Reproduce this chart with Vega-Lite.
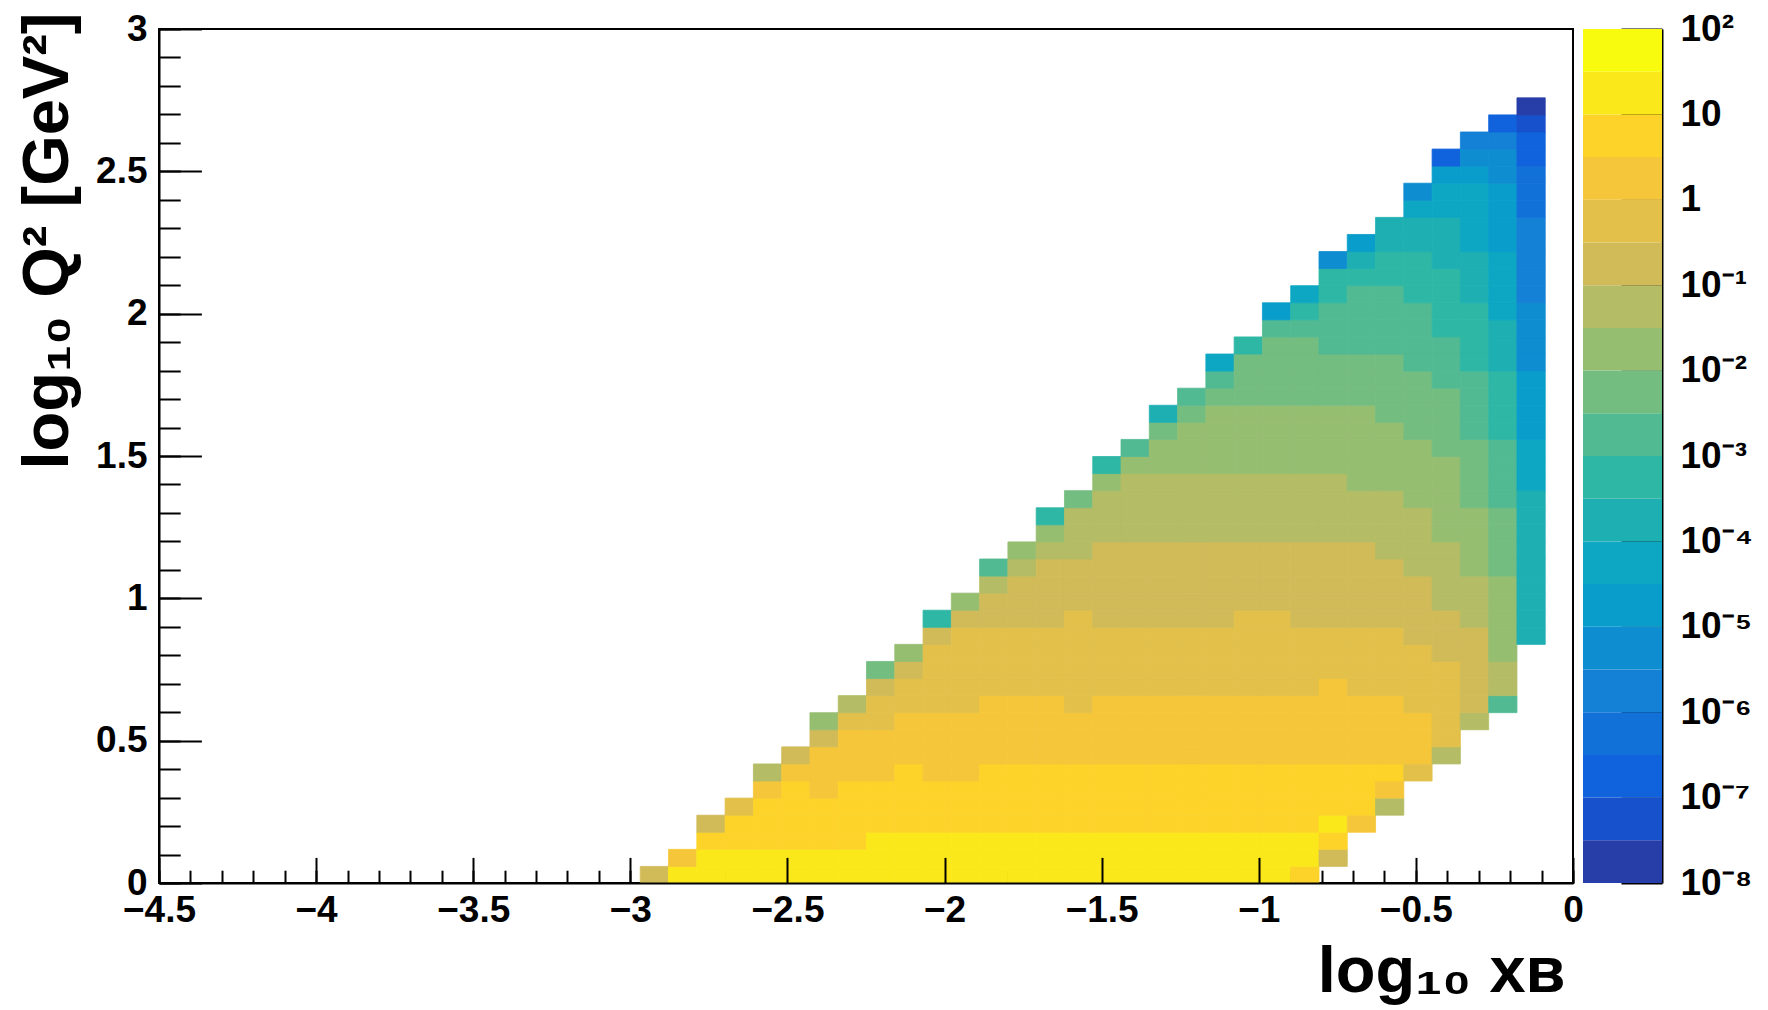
{
"$schema": "https://vega.github.io/schema/vega-lite/v6.json",
"background": "white",
"padding": {"left": 14, "top": 9, "right": 0, "bottom": 0},
"bounds": "flush",
"spacing": 10,
"resolve": {"scale": {"color": "independent"}},
"config": {
  "font": "Liberation Sans",
  "axis": {"labelFont": "Liberation Sans", "labelFontWeight": "bold", "labelColor": "black", "labelFontSize": 37,
           "tickColor": "black", "tickWidth": 2, "domainColor": "black", "domainWidth": 2, "grid": false,
           "titleFont": "Liberation Sans", "titleFontWeight": "bold", "titleColor": "black",
           "labelOverlap": false, "labelBound": false, "labelFlush": false}
},
"datasets": {
"bands": [
{"lo":1e-8,"hi":3.1623e-8,"v":2e-8},{"lo":3.1623e-8,"hi":1e-7,"v":5e-8},{"lo":1e-7,"hi":3.1623e-7,"v":2e-7},{"lo":3.1623e-7,"hi":1e-6,"v":5e-7},
{"lo":1e-6,"hi":3.1623e-6,"v":2e-6},{"lo":3.1623e-6,"hi":1e-5,"v":5e-6},{"lo":1e-5,"hi":3.1623e-5,"v":2e-5},{"lo":3.1623e-5,"hi":1e-4,"v":5e-5},
{"lo":1e-4,"hi":3.1623e-4,"v":2e-4},{"lo":3.1623e-4,"hi":1e-3,"v":5e-4},{"lo":1e-3,"hi":3.1623e-3,"v":2e-3},{"lo":3.1623e-3,"hi":1e-2,"v":5e-3},
{"lo":1e-2,"hi":3.1623e-2,"v":2e-2},{"lo":3.1623e-2,"hi":0.1,"v":5e-2},{"lo":0.1,"hi":0.31623,"v":0.2},{"lo":0.31623,"hi":1,"v":0.5},
{"lo":1,"hi":3.1623,"v":2},{"lo":3.1623,"hi":10,"v":5},{"lo":10,"hi":31.623,"v":20},{"lo":31.623,"hi":100,"v":50}
],
"h": [
{"x":-2.97,"y":0,"v":0.2},
{"x":-2.88,"y":0,"v":20},{"x":-2.88,"y":0.06,"v":2},
{"x":-2.79,"y":0,"v":20},{"x":-2.79,"y":0.06,"v":20},{"x":-2.79,"y":0.12,"v":5},{"x":-2.79,"y":0.18,"v":0.2},
{"x":-2.7,"y":0,"v":20},{"x":-2.7,"y":0.06,"v":20},{"x":-2.7,"y":0.12,"v":5},{"x":-2.7,"y":0.18,"v":5},{"x":-2.7,"y":0.24,"v":0.5},
{"x":-2.61,"y":0,"v":20},{"x":-2.61,"y":0.06,"v":20},{"x":-2.61,"y":0.12,"v":5},{"x":-2.61,"y":0.18,"v":5},{"x":-2.61,"y":0.24,"v":5},{"x":-2.61,"y":0.3,"v":2},{"x":-2.61,"y":0.36,"v":0.05},
{"x":-2.52,"y":0,"v":20},{"x":-2.52,"y":0.06,"v":20},{"x":-2.52,"y":0.12,"v":5},{"x":-2.52,"y":0.18,"v":5},{"x":-2.52,"y":0.24,"v":5},{"x":-2.52,"y":0.3,"v":5},{"x":-2.52,"y":0.36,"v":2},{"x":-2.52,"y":0.42,"v":0.2},
{"x":-2.43,"y":0,"v":20},{"x":-2.43,"y":0.06,"v":20},{"x":-2.43,"y":0.12,"v":5},{"x":-2.43,"y":0.18,"v":5},{"x":-2.43,"y":0.24,"v":5},{"x":-2.43,"y":0.3,"v":2},{"x":-2.43,"y":0.36,"v":2},{"x":-2.43,"y":0.42,"v":2},{"x":-2.43,"y":0.48,"v":0.2},{"x":-2.43,"y":0.54,"v":0.02},
{"x":-2.34,"y":0,"v":20},{"x":-2.34,"y":0.06,"v":20},{"x":-2.34,"y":0.12,"v":5},{"x":-2.34,"y":0.18,"v":5},{"x":-2.34,"y":0.24,"v":5},{"x":-2.34,"y":0.3,"v":5},{"x":-2.34,"y":0.36,"v":2},{"x":-2.34,"y":0.42,"v":2},{"x":-2.34,"y":0.48,"v":2},{"x":-2.34,"y":0.54,"v":0.5},{"x":-2.34,"y":0.6,"v":0.05},
{"x":-2.25,"y":0,"v":20},{"x":-2.25,"y":0.06,"v":20},{"x":-2.25,"y":0.12,"v":20},{"x":-2.25,"y":0.18,"v":5},{"x":-2.25,"y":0.24,"v":5},{"x":-2.25,"y":0.3,"v":5},{"x":-2.25,"y":0.36,"v":2},{"x":-2.25,"y":0.42,"v":2},{"x":-2.25,"y":0.48,"v":2},{"x":-2.25,"y":0.54,"v":0.5},{"x":-2.25,"y":0.6,"v":0.5},{"x":-2.25,"y":0.66,"v":0.2},{"x":-2.25,"y":0.72,"v":0.005},
{"x":-2.16,"y":0,"v":20},{"x":-2.16,"y":0.06,"v":20},{"x":-2.16,"y":0.12,"v":20},{"x":-2.16,"y":0.18,"v":5},{"x":-2.16,"y":0.24,"v":5},{"x":-2.16,"y":0.3,"v":5},{"x":-2.16,"y":0.36,"v":5},{"x":-2.16,"y":0.42,"v":2},{"x":-2.16,"y":0.48,"v":2},{"x":-2.16,"y":0.54,"v":2},{"x":-2.16,"y":0.6,"v":0.5},{"x":-2.16,"y":0.66,"v":0.5},{"x":-2.16,"y":0.72,"v":0.2},{"x":-2.16,"y":0.78,"v":0.02},
{"x":-2.07,"y":0,"v":20},{"x":-2.07,"y":0.06,"v":20},{"x":-2.07,"y":0.12,"v":20},{"x":-2.07,"y":0.18,"v":5},{"x":-2.07,"y":0.24,"v":5},{"x":-2.07,"y":0.3,"v":5},{"x":-2.07,"y":0.36,"v":2},{"x":-2.07,"y":0.42,"v":2},{"x":-2.07,"y":0.48,"v":2},{"x":-2.07,"y":0.54,"v":2},{"x":-2.07,"y":0.6,"v":0.5},{"x":-2.07,"y":0.66,"v":0.5},{"x":-2.07,"y":0.72,"v":0.5},{"x":-2.07,"y":0.78,"v":0.5},{"x":-2.07,"y":0.84,"v":0.2},{"x":-2.07,"y":0.9,"v":5e-4},
{"x":-1.98,"y":0,"v":20},{"x":-1.98,"y":0.06,"v":20},{"x":-1.98,"y":0.12,"v":20},{"x":-1.98,"y":0.18,"v":5},{"x":-1.98,"y":0.24,"v":5},{"x":-1.98,"y":0.3,"v":5},{"x":-1.98,"y":0.36,"v":2},{"x":-1.98,"y":0.42,"v":2},{"x":-1.98,"y":0.48,"v":2},{"x":-1.98,"y":0.54,"v":2},{"x":-1.98,"y":0.6,"v":0.5},{"x":-1.98,"y":0.66,"v":0.5},{"x":-1.98,"y":0.72,"v":0.5},{"x":-1.98,"y":0.78,"v":0.5},{"x":-1.98,"y":0.84,"v":0.5},{"x":-1.98,"y":0.9,"v":0.2},{"x":-1.98,"y":0.96,"v":0.02},
{"x":-1.89,"y":0,"v":20},{"x":-1.89,"y":0.06,"v":20},{"x":-1.89,"y":0.12,"v":20},{"x":-1.89,"y":0.18,"v":5},{"x":-1.89,"y":0.24,"v":5},{"x":-1.89,"y":0.3,"v":5},{"x":-1.89,"y":0.36,"v":5},{"x":-1.89,"y":0.42,"v":2},{"x":-1.89,"y":0.48,"v":2},{"x":-1.89,"y":0.54,"v":2},{"x":-1.89,"y":0.6,"v":2},{"x":-1.89,"y":0.66,"v":0.5},{"x":-1.89,"y":0.72,"v":0.5},{"x":-1.89,"y":0.78,"v":0.5},{"x":-1.89,"y":0.84,"v":0.5},{"x":-1.89,"y":0.9,"v":0.2},{"x":-1.89,"y":0.96,"v":0.2},{"x":-1.89,"y":1.02,"v":0.05},{"x":-1.89,"y":1.08,"v":0.002},
{"x":-1.8,"y":0,"v":20},{"x":-1.8,"y":0.06,"v":20},{"x":-1.8,"y":0.12,"v":20},{"x":-1.8,"y":0.18,"v":5},{"x":-1.8,"y":0.24,"v":5},{"x":-1.8,"y":0.3,"v":5},{"x":-1.8,"y":0.36,"v":5},{"x":-1.8,"y":0.42,"v":2},{"x":-1.8,"y":0.48,"v":2},{"x":-1.8,"y":0.54,"v":2},{"x":-1.8,"y":0.6,"v":2},{"x":-1.8,"y":0.66,"v":0.5},{"x":-1.8,"y":0.72,"v":0.5},{"x":-1.8,"y":0.78,"v":0.5},{"x":-1.8,"y":0.84,"v":0.5},{"x":-1.8,"y":0.9,"v":0.2},{"x":-1.8,"y":0.96,"v":0.2},{"x":-1.8,"y":1.02,"v":0.2},{"x":-1.8,"y":1.08,"v":0.05},{"x":-1.8,"y":1.14,"v":0.02},
{"x":-1.71,"y":0,"v":20},{"x":-1.71,"y":0.06,"v":20},{"x":-1.71,"y":0.12,"v":20},{"x":-1.71,"y":0.18,"v":5},{"x":-1.71,"y":0.24,"v":5},{"x":-1.71,"y":0.3,"v":5},{"x":-1.71,"y":0.36,"v":5},{"x":-1.71,"y":0.42,"v":2},{"x":-1.71,"y":0.48,"v":2},{"x":-1.71,"y":0.54,"v":2},{"x":-1.71,"y":0.6,"v":2},{"x":-1.71,"y":0.66,"v":0.5},{"x":-1.71,"y":0.72,"v":0.5},{"x":-1.71,"y":0.78,"v":0.5},{"x":-1.71,"y":0.84,"v":0.5},{"x":-1.71,"y":0.9,"v":0.2},{"x":-1.71,"y":0.96,"v":0.2},{"x":-1.71,"y":1.02,"v":0.2},{"x":-1.71,"y":1.08,"v":0.2},{"x":-1.71,"y":1.14,"v":0.05},{"x":-1.71,"y":1.2,"v":0.02},{"x":-1.71,"y":1.26,"v":5e-4},
{"x":-1.62,"y":0,"v":20},{"x":-1.62,"y":0.06,"v":20},{"x":-1.62,"y":0.12,"v":20},{"x":-1.62,"y":0.18,"v":5},{"x":-1.62,"y":0.24,"v":5},{"x":-1.62,"y":0.3,"v":5},{"x":-1.62,"y":0.36,"v":5},{"x":-1.62,"y":0.42,"v":2},{"x":-1.62,"y":0.48,"v":2},{"x":-1.62,"y":0.54,"v":2},{"x":-1.62,"y":0.6,"v":0.5},{"x":-1.62,"y":0.66,"v":0.5},{"x":-1.62,"y":0.72,"v":0.5},{"x":-1.62,"y":0.78,"v":0.5},{"x":-1.62,"y":0.84,"v":0.5},{"x":-1.62,"y":0.9,"v":0.5},{"x":-1.62,"y":0.96,"v":0.2},{"x":-1.62,"y":1.02,"v":0.2},{"x":-1.62,"y":1.08,"v":0.2},{"x":-1.62,"y":1.14,"v":0.05},{"x":-1.62,"y":1.2,"v":0.05},{"x":-1.62,"y":1.26,"v":0.05},{"x":-1.62,"y":1.32,"v":0.005},
{"x":-1.53,"y":0,"v":20},{"x":-1.53,"y":0.06,"v":20},{"x":-1.53,"y":0.12,"v":20},{"x":-1.53,"y":0.18,"v":5},{"x":-1.53,"y":0.24,"v":5},{"x":-1.53,"y":0.3,"v":5},{"x":-1.53,"y":0.36,"v":5},{"x":-1.53,"y":0.42,"v":2},{"x":-1.53,"y":0.48,"v":2},{"x":-1.53,"y":0.54,"v":2},{"x":-1.53,"y":0.6,"v":2},{"x":-1.53,"y":0.66,"v":0.5},{"x":-1.53,"y":0.72,"v":0.5},{"x":-1.53,"y":0.78,"v":0.5},{"x":-1.53,"y":0.84,"v":0.5},{"x":-1.53,"y":0.9,"v":0.2},{"x":-1.53,"y":0.96,"v":0.2},{"x":-1.53,"y":1.02,"v":0.2},{"x":-1.53,"y":1.08,"v":0.2},{"x":-1.53,"y":1.14,"v":0.2},{"x":-1.53,"y":1.2,"v":0.05},{"x":-1.53,"y":1.26,"v":0.05},{"x":-1.53,"y":1.32,"v":0.05},{"x":-1.53,"y":1.38,"v":0.02},{"x":-1.53,"y":1.44,"v":5e-4},
{"x":-1.44,"y":0,"v":20},{"x":-1.44,"y":0.06,"v":20},{"x":-1.44,"y":0.12,"v":20},{"x":-1.44,"y":0.18,"v":5},{"x":-1.44,"y":0.24,"v":5},{"x":-1.44,"y":0.3,"v":5},{"x":-1.44,"y":0.36,"v":5},{"x":-1.44,"y":0.42,"v":2},{"x":-1.44,"y":0.48,"v":2},{"x":-1.44,"y":0.54,"v":2},{"x":-1.44,"y":0.6,"v":2},{"x":-1.44,"y":0.66,"v":0.5},{"x":-1.44,"y":0.72,"v":0.5},{"x":-1.44,"y":0.78,"v":0.5},{"x":-1.44,"y":0.84,"v":0.5},{"x":-1.44,"y":0.9,"v":0.2},{"x":-1.44,"y":0.96,"v":0.2},{"x":-1.44,"y":1.02,"v":0.2},{"x":-1.44,"y":1.08,"v":0.2},{"x":-1.44,"y":1.14,"v":0.2},{"x":-1.44,"y":1.2,"v":0.05},{"x":-1.44,"y":1.26,"v":0.05},{"x":-1.44,"y":1.32,"v":0.05},{"x":-1.44,"y":1.38,"v":0.05},{"x":-1.44,"y":1.44,"v":0.02},{"x":-1.44,"y":1.5,"v":0.002},
{"x":-1.35,"y":0,"v":20},{"x":-1.35,"y":0.06,"v":20},{"x":-1.35,"y":0.12,"v":20},{"x":-1.35,"y":0.18,"v":5},{"x":-1.35,"y":0.24,"v":5},{"x":-1.35,"y":0.3,"v":5},{"x":-1.35,"y":0.36,"v":5},{"x":-1.35,"y":0.42,"v":2},{"x":-1.35,"y":0.48,"v":2},{"x":-1.35,"y":0.54,"v":2},{"x":-1.35,"y":0.6,"v":2},{"x":-1.35,"y":0.66,"v":0.5},{"x":-1.35,"y":0.72,"v":0.5},{"x":-1.35,"y":0.78,"v":0.5},{"x":-1.35,"y":0.84,"v":0.5},{"x":-1.35,"y":0.9,"v":0.2},{"x":-1.35,"y":0.96,"v":0.2},{"x":-1.35,"y":1.02,"v":0.2},{"x":-1.35,"y":1.08,"v":0.2},{"x":-1.35,"y":1.14,"v":0.2},{"x":-1.35,"y":1.2,"v":0.05},{"x":-1.35,"y":1.26,"v":0.05},{"x":-1.35,"y":1.32,"v":0.05},{"x":-1.35,"y":1.38,"v":0.05},{"x":-1.35,"y":1.44,"v":0.02},{"x":-1.35,"y":1.5,"v":0.02},{"x":-1.35,"y":1.56,"v":0.005},{"x":-1.35,"y":1.62,"v":2e-4},
{"x":-1.26,"y":0,"v":20},{"x":-1.26,"y":0.06,"v":20},{"x":-1.26,"y":0.12,"v":20},{"x":-1.26,"y":0.18,"v":5},{"x":-1.26,"y":0.24,"v":5},{"x":-1.26,"y":0.3,"v":5},{"x":-1.26,"y":0.36,"v":5},{"x":-1.26,"y":0.42,"v":2},{"x":-1.26,"y":0.48,"v":2},{"x":-1.26,"y":0.54,"v":2},{"x":-1.26,"y":0.6,"v":2},{"x":-1.26,"y":0.66,"v":0.5},{"x":-1.26,"y":0.72,"v":0.5},{"x":-1.26,"y":0.78,"v":0.5},{"x":-1.26,"y":0.84,"v":0.5},{"x":-1.26,"y":0.9,"v":0.2},{"x":-1.26,"y":0.96,"v":0.2},{"x":-1.26,"y":1.02,"v":0.2},{"x":-1.26,"y":1.08,"v":0.2},{"x":-1.26,"y":1.14,"v":0.2},{"x":-1.26,"y":1.2,"v":0.05},{"x":-1.26,"y":1.26,"v":0.05},{"x":-1.26,"y":1.32,"v":0.05},{"x":-1.26,"y":1.38,"v":0.05},{"x":-1.26,"y":1.44,"v":0.02},{"x":-1.26,"y":1.5,"v":0.02},{"x":-1.26,"y":1.56,"v":0.02},{"x":-1.26,"y":1.62,"v":0.005},{"x":-1.26,"y":1.68,"v":0.002},
{"x":-1.17,"y":0,"v":20},{"x":-1.17,"y":0.06,"v":20},{"x":-1.17,"y":0.12,"v":20},{"x":-1.17,"y":0.18,"v":5},{"x":-1.17,"y":0.24,"v":5},{"x":-1.17,"y":0.3,"v":5},{"x":-1.17,"y":0.36,"v":5},{"x":-1.17,"y":0.42,"v":2},{"x":-1.17,"y":0.48,"v":2},{"x":-1.17,"y":0.54,"v":2},{"x":-1.17,"y":0.6,"v":2},{"x":-1.17,"y":0.66,"v":0.5},{"x":-1.17,"y":0.72,"v":0.5},{"x":-1.17,"y":0.78,"v":0.5},{"x":-1.17,"y":0.84,"v":0.5},{"x":-1.17,"y":0.9,"v":0.2},{"x":-1.17,"y":0.96,"v":0.2},{"x":-1.17,"y":1.02,"v":0.2},{"x":-1.17,"y":1.08,"v":0.2},{"x":-1.17,"y":1.14,"v":0.2},{"x":-1.17,"y":1.2,"v":0.05},{"x":-1.17,"y":1.26,"v":0.05},{"x":-1.17,"y":1.32,"v":0.05},{"x":-1.17,"y":1.38,"v":0.05},{"x":-1.17,"y":1.44,"v":0.02},{"x":-1.17,"y":1.5,"v":0.02},{"x":-1.17,"y":1.56,"v":0.02},{"x":-1.17,"y":1.62,"v":0.02},{"x":-1.17,"y":1.68,"v":0.005},{"x":-1.17,"y":1.74,"v":0.002},{"x":-1.17,"y":1.8,"v":5e-5},
{"x":-1.08,"y":0,"v":20},{"x":-1.08,"y":0.06,"v":20},{"x":-1.08,"y":0.12,"v":20},{"x":-1.08,"y":0.18,"v":5},{"x":-1.08,"y":0.24,"v":5},{"x":-1.08,"y":0.3,"v":5},{"x":-1.08,"y":0.36,"v":5},{"x":-1.08,"y":0.42,"v":2},{"x":-1.08,"y":0.48,"v":2},{"x":-1.08,"y":0.54,"v":2},{"x":-1.08,"y":0.6,"v":2},{"x":-1.08,"y":0.66,"v":0.5},{"x":-1.08,"y":0.72,"v":0.5},{"x":-1.08,"y":0.78,"v":0.5},{"x":-1.08,"y":0.84,"v":0.5},{"x":-1.08,"y":0.9,"v":0.5},{"x":-1.08,"y":0.96,"v":0.2},{"x":-1.08,"y":1.02,"v":0.2},{"x":-1.08,"y":1.08,"v":0.2},{"x":-1.08,"y":1.14,"v":0.2},{"x":-1.08,"y":1.2,"v":0.05},{"x":-1.08,"y":1.26,"v":0.05},{"x":-1.08,"y":1.32,"v":0.05},{"x":-1.08,"y":1.38,"v":0.05},{"x":-1.08,"y":1.44,"v":0.02},{"x":-1.08,"y":1.5,"v":0.02},{"x":-1.08,"y":1.56,"v":0.02},{"x":-1.08,"y":1.62,"v":0.02},{"x":-1.08,"y":1.68,"v":0.005},{"x":-1.08,"y":1.74,"v":0.005},{"x":-1.08,"y":1.8,"v":0.005},{"x":-1.08,"y":1.86,"v":5e-4},
{"x":-0.99,"y":0,"v":20},{"x":-0.99,"y":0.06,"v":20},{"x":-0.99,"y":0.12,"v":20},{"x":-0.99,"y":0.18,"v":5},{"x":-0.99,"y":0.24,"v":5},{"x":-0.99,"y":0.3,"v":5},{"x":-0.99,"y":0.36,"v":5},{"x":-0.99,"y":0.42,"v":2},{"x":-0.99,"y":0.48,"v":2},{"x":-0.99,"y":0.54,"v":2},{"x":-0.99,"y":0.6,"v":2},{"x":-0.99,"y":0.66,"v":0.5},{"x":-0.99,"y":0.72,"v":0.5},{"x":-0.99,"y":0.78,"v":0.5},{"x":-0.99,"y":0.84,"v":0.5},{"x":-0.99,"y":0.9,"v":0.5},{"x":-0.99,"y":0.96,"v":0.2},{"x":-0.99,"y":1.02,"v":0.2},{"x":-0.99,"y":1.08,"v":0.2},{"x":-0.99,"y":1.14,"v":0.2},{"x":-0.99,"y":1.2,"v":0.05},{"x":-0.99,"y":1.26,"v":0.05},{"x":-0.99,"y":1.32,"v":0.05},{"x":-0.99,"y":1.38,"v":0.05},{"x":-0.99,"y":1.44,"v":0.02},{"x":-0.99,"y":1.5,"v":0.02},{"x":-0.99,"y":1.56,"v":0.02},{"x":-0.99,"y":1.62,"v":0.02},{"x":-0.99,"y":1.68,"v":0.005},{"x":-0.99,"y":1.74,"v":0.005},{"x":-0.99,"y":1.8,"v":0.005},{"x":-0.99,"y":1.86,"v":0.005},{"x":-0.99,"y":1.92,"v":0.002},{"x":-0.99,"y":1.98,"v":2e-5},
{"x":-0.9,"y":0,"v":5},{"x":-0.9,"y":0.06,"v":20},{"x":-0.9,"y":0.12,"v":20},{"x":-0.9,"y":0.18,"v":5},{"x":-0.9,"y":0.24,"v":5},{"x":-0.9,"y":0.3,"v":5},{"x":-0.9,"y":0.36,"v":5},{"x":-0.9,"y":0.42,"v":2},{"x":-0.9,"y":0.48,"v":2},{"x":-0.9,"y":0.54,"v":2},{"x":-0.9,"y":0.6,"v":2},{"x":-0.9,"y":0.66,"v":0.5},{"x":-0.9,"y":0.72,"v":0.5},{"x":-0.9,"y":0.78,"v":0.5},{"x":-0.9,"y":0.84,"v":0.5},{"x":-0.9,"y":0.9,"v":0.2},{"x":-0.9,"y":0.96,"v":0.2},{"x":-0.9,"y":1.02,"v":0.2},{"x":-0.9,"y":1.08,"v":0.2},{"x":-0.9,"y":1.14,"v":0.2},{"x":-0.9,"y":1.2,"v":0.05},{"x":-0.9,"y":1.26,"v":0.05},{"x":-0.9,"y":1.32,"v":0.05},{"x":-0.9,"y":1.38,"v":0.05},{"x":-0.9,"y":1.44,"v":0.02},{"x":-0.9,"y":1.5,"v":0.02},{"x":-0.9,"y":1.56,"v":0.02},{"x":-0.9,"y":1.62,"v":0.02},{"x":-0.9,"y":1.68,"v":0.005},{"x":-0.9,"y":1.74,"v":0.005},{"x":-0.9,"y":1.8,"v":0.005},{"x":-0.9,"y":1.86,"v":0.005},{"x":-0.9,"y":1.92,"v":0.002},{"x":-0.9,"y":1.98,"v":5e-4},{"x":-0.9,"y":2.04,"v":5e-5},
{"x":-0.81,"y":0.06,"v":0.2},{"x":-0.81,"y":0.12,"v":5},{"x":-0.81,"y":0.18,"v":20},{"x":-0.81,"y":0.24,"v":5},{"x":-0.81,"y":0.3,"v":5},{"x":-0.81,"y":0.36,"v":5},{"x":-0.81,"y":0.42,"v":2},{"x":-0.81,"y":0.48,"v":2},{"x":-0.81,"y":0.54,"v":2},{"x":-0.81,"y":0.6,"v":2},{"x":-0.81,"y":0.66,"v":2},{"x":-0.81,"y":0.72,"v":0.5},{"x":-0.81,"y":0.78,"v":0.5},{"x":-0.81,"y":0.84,"v":0.5},{"x":-0.81,"y":0.9,"v":0.2},{"x":-0.81,"y":0.96,"v":0.2},{"x":-0.81,"y":1.02,"v":0.2},{"x":-0.81,"y":1.08,"v":0.2},{"x":-0.81,"y":1.14,"v":0.2},{"x":-0.81,"y":1.2,"v":0.05},{"x":-0.81,"y":1.26,"v":0.05},{"x":-0.81,"y":1.32,"v":0.05},{"x":-0.81,"y":1.38,"v":0.05},{"x":-0.81,"y":1.44,"v":0.02},{"x":-0.81,"y":1.5,"v":0.02},{"x":-0.81,"y":1.56,"v":0.02},{"x":-0.81,"y":1.62,"v":0.02},{"x":-0.81,"y":1.68,"v":0.005},{"x":-0.81,"y":1.74,"v":0.005},{"x":-0.81,"y":1.8,"v":0.005},{"x":-0.81,"y":1.86,"v":0.002},{"x":-0.81,"y":1.92,"v":0.002},{"x":-0.81,"y":1.98,"v":0.002},{"x":-0.81,"y":2.04,"v":5e-4},{"x":-0.81,"y":2.1,"v":5e-4},{"x":-0.81,"y":2.16,"v":5e-6},
{"x":-0.72,"y":0.18,"v":2},{"x":-0.72,"y":0.24,"v":5},{"x":-0.72,"y":0.3,"v":5},{"x":-0.72,"y":0.36,"v":5},{"x":-0.72,"y":0.42,"v":2},{"x":-0.72,"y":0.48,"v":2},{"x":-0.72,"y":0.54,"v":2},{"x":-0.72,"y":0.6,"v":2},{"x":-0.72,"y":0.66,"v":0.5},{"x":-0.72,"y":0.72,"v":0.5},{"x":-0.72,"y":0.78,"v":0.5},{"x":-0.72,"y":0.84,"v":0.5},{"x":-0.72,"y":0.9,"v":0.2},{"x":-0.72,"y":0.96,"v":0.2},{"x":-0.72,"y":1.02,"v":0.2},{"x":-0.72,"y":1.08,"v":0.2},{"x":-0.72,"y":1.14,"v":0.2},{"x":-0.72,"y":1.2,"v":0.05},{"x":-0.72,"y":1.26,"v":0.05},{"x":-0.72,"y":1.32,"v":0.05},{"x":-0.72,"y":1.38,"v":0.02},{"x":-0.72,"y":1.44,"v":0.02},{"x":-0.72,"y":1.5,"v":0.02},{"x":-0.72,"y":1.56,"v":0.02},{"x":-0.72,"y":1.62,"v":0.02},{"x":-0.72,"y":1.68,"v":0.005},{"x":-0.72,"y":1.74,"v":0.005},{"x":-0.72,"y":1.8,"v":0.005},{"x":-0.72,"y":1.86,"v":0.002},{"x":-0.72,"y":1.92,"v":0.002},{"x":-0.72,"y":1.98,"v":0.002},{"x":-0.72,"y":2.04,"v":0.002},{"x":-0.72,"y":2.1,"v":5e-4},{"x":-0.72,"y":2.16,"v":2e-4},{"x":-0.72,"y":2.22,"v":2e-5},
{"x":-0.63,"y":0.24,"v":0.05},{"x":-0.63,"y":0.3,"v":2},{"x":-0.63,"y":0.36,"v":5},{"x":-0.63,"y":0.42,"v":2},{"x":-0.63,"y":0.48,"v":2},{"x":-0.63,"y":0.54,"v":2},{"x":-0.63,"y":0.6,"v":2},{"x":-0.63,"y":0.66,"v":0.5},{"x":-0.63,"y":0.72,"v":0.5},{"x":-0.63,"y":0.78,"v":0.5},{"x":-0.63,"y":0.84,"v":0.5},{"x":-0.63,"y":0.9,"v":0.2},{"x":-0.63,"y":0.96,"v":0.2},{"x":-0.63,"y":1.02,"v":0.2},{"x":-0.63,"y":1.08,"v":0.2},{"x":-0.63,"y":1.14,"v":0.05},{"x":-0.63,"y":1.2,"v":0.05},{"x":-0.63,"y":1.26,"v":0.05},{"x":-0.63,"y":1.32,"v":0.05},{"x":-0.63,"y":1.38,"v":0.02},{"x":-0.63,"y":1.44,"v":0.02},{"x":-0.63,"y":1.5,"v":0.02},{"x":-0.63,"y":1.56,"v":0.02},{"x":-0.63,"y":1.62,"v":0.005},{"x":-0.63,"y":1.68,"v":0.005},{"x":-0.63,"y":1.74,"v":0.005},{"x":-0.63,"y":1.8,"v":0.005},{"x":-0.63,"y":1.86,"v":0.002},{"x":-0.63,"y":1.92,"v":0.002},{"x":-0.63,"y":1.98,"v":0.002},{"x":-0.63,"y":2.04,"v":0.002},{"x":-0.63,"y":2.1,"v":5e-4},{"x":-0.63,"y":2.16,"v":5e-4},{"x":-0.63,"y":2.22,"v":2e-4},{"x":-0.63,"y":2.28,"v":2e-4},
{"x":-0.54,"y":0.36,"v":0.5},{"x":-0.54,"y":0.42,"v":2},{"x":-0.54,"y":0.48,"v":2},{"x":-0.54,"y":0.54,"v":2},{"x":-0.54,"y":0.6,"v":0.5},{"x":-0.54,"y":0.66,"v":0.5},{"x":-0.54,"y":0.72,"v":0.5},{"x":-0.54,"y":0.78,"v":0.5},{"x":-0.54,"y":0.84,"v":0.2},{"x":-0.54,"y":0.9,"v":0.2},{"x":-0.54,"y":0.96,"v":0.2},{"x":-0.54,"y":1.02,"v":0.2},{"x":-0.54,"y":1.08,"v":0.05},{"x":-0.54,"y":1.14,"v":0.05},{"x":-0.54,"y":1.2,"v":0.05},{"x":-0.54,"y":1.26,"v":0.05},{"x":-0.54,"y":1.32,"v":0.02},{"x":-0.54,"y":1.38,"v":0.02},{"x":-0.54,"y":1.44,"v":0.02},{"x":-0.54,"y":1.5,"v":0.02},{"x":-0.54,"y":1.56,"v":0.005},{"x":-0.54,"y":1.62,"v":0.005},{"x":-0.54,"y":1.68,"v":0.005},{"x":-0.54,"y":1.74,"v":0.005},{"x":-0.54,"y":1.8,"v":0.002},{"x":-0.54,"y":1.86,"v":0.002},{"x":-0.54,"y":1.92,"v":0.002},{"x":-0.54,"y":1.98,"v":0.002},{"x":-0.54,"y":2.04,"v":5e-4},{"x":-0.54,"y":2.1,"v":5e-4},{"x":-0.54,"y":2.16,"v":5e-4},{"x":-0.54,"y":2.22,"v":2e-4},{"x":-0.54,"y":2.28,"v":2e-4},{"x":-0.54,"y":2.34,"v":5e-5},{"x":-0.54,"y":2.4,"v":5e-6},
{"x":-0.45,"y":0.42,"v":0.05},{"x":-0.45,"y":0.48,"v":0.5},{"x":-0.45,"y":0.54,"v":0.5},{"x":-0.45,"y":0.6,"v":0.5},{"x":-0.45,"y":0.66,"v":0.5},{"x":-0.45,"y":0.72,"v":0.5},{"x":-0.45,"y":0.78,"v":0.2},{"x":-0.45,"y":0.84,"v":0.2},{"x":-0.45,"y":0.9,"v":0.2},{"x":-0.45,"y":0.96,"v":0.05},{"x":-0.45,"y":1.02,"v":0.05},{"x":-0.45,"y":1.08,"v":0.05},{"x":-0.45,"y":1.14,"v":0.05},{"x":-0.45,"y":1.2,"v":0.02},{"x":-0.45,"y":1.26,"v":0.02},{"x":-0.45,"y":1.32,"v":0.02},{"x":-0.45,"y":1.38,"v":0.02},{"x":-0.45,"y":1.44,"v":0.02},{"x":-0.45,"y":1.5,"v":0.005},{"x":-0.45,"y":1.56,"v":0.005},{"x":-0.45,"y":1.62,"v":0.005},{"x":-0.45,"y":1.68,"v":0.005},{"x":-0.45,"y":1.74,"v":0.002},{"x":-0.45,"y":1.8,"v":0.002},{"x":-0.45,"y":1.86,"v":0.002},{"x":-0.45,"y":1.92,"v":5e-4},{"x":-0.45,"y":1.98,"v":5e-4},{"x":-0.45,"y":2.04,"v":5e-4},{"x":-0.45,"y":2.1,"v":5e-4},{"x":-0.45,"y":2.16,"v":2e-4},{"x":-0.45,"y":2.22,"v":2e-4},{"x":-0.45,"y":2.28,"v":2e-4},{"x":-0.45,"y":2.34,"v":5e-5},{"x":-0.45,"y":2.4,"v":5e-5},{"x":-0.45,"y":2.46,"v":2e-5},{"x":-0.45,"y":2.52,"v":2e-7},
{"x":-0.36,"y":0.54,"v":0.05},{"x":-0.36,"y":0.6,"v":0.2},{"x":-0.36,"y":0.66,"v":0.2},{"x":-0.36,"y":0.72,"v":0.2},{"x":-0.36,"y":0.78,"v":0.2},{"x":-0.36,"y":0.84,"v":0.2},{"x":-0.36,"y":0.9,"v":0.05},{"x":-0.36,"y":0.96,"v":0.05},{"x":-0.36,"y":1.02,"v":0.05},{"x":-0.36,"y":1.08,"v":0.02},{"x":-0.36,"y":1.14,"v":0.02},{"x":-0.36,"y":1.2,"v":0.02},{"x":-0.36,"y":1.26,"v":0.02},{"x":-0.36,"y":1.32,"v":0.005},{"x":-0.36,"y":1.38,"v":0.005},{"x":-0.36,"y":1.44,"v":0.005},{"x":-0.36,"y":1.5,"v":0.005},{"x":-0.36,"y":1.56,"v":0.002},{"x":-0.36,"y":1.62,"v":0.002},{"x":-0.36,"y":1.68,"v":0.002},{"x":-0.36,"y":1.74,"v":0.002},{"x":-0.36,"y":1.8,"v":5e-4},{"x":-0.36,"y":1.86,"v":5e-4},{"x":-0.36,"y":1.92,"v":5e-4},{"x":-0.36,"y":1.98,"v":5e-4},{"x":-0.36,"y":2.04,"v":2e-4},{"x":-0.36,"y":2.1,"v":2e-4},{"x":-0.36,"y":2.16,"v":2e-4},{"x":-0.36,"y":2.22,"v":5e-5},{"x":-0.36,"y":2.28,"v":5e-5},{"x":-0.36,"y":2.34,"v":5e-5},{"x":-0.36,"y":2.4,"v":5e-5},{"x":-0.36,"y":2.46,"v":2e-5},{"x":-0.36,"y":2.52,"v":5e-6},{"x":-0.36,"y":2.58,"v":2e-6},
{"x":-0.27,"y":0.6,"v":0.002},{"x":-0.27,"y":0.66,"v":0.05},{"x":-0.27,"y":0.72,"v":0.05},{"x":-0.27,"y":0.78,"v":0.02},{"x":-0.27,"y":0.84,"v":0.02},{"x":-0.27,"y":0.9,"v":0.02},{"x":-0.27,"y":0.96,"v":0.02},{"x":-0.27,"y":1.02,"v":0.02},{"x":-0.27,"y":1.08,"v":0.005},{"x":-0.27,"y":1.14,"v":0.005},{"x":-0.27,"y":1.2,"v":0.005},{"x":-0.27,"y":1.26,"v":0.005},{"x":-0.27,"y":1.32,"v":0.002},{"x":-0.27,"y":1.38,"v":0.002},{"x":-0.27,"y":1.44,"v":0.002},{"x":-0.27,"y":1.5,"v":0.002},{"x":-0.27,"y":1.56,"v":5e-4},{"x":-0.27,"y":1.62,"v":5e-4},{"x":-0.27,"y":1.68,"v":5e-4},{"x":-0.27,"y":1.74,"v":5e-4},{"x":-0.27,"y":1.8,"v":2e-4},{"x":-0.27,"y":1.86,"v":2e-4},{"x":-0.27,"y":1.92,"v":2e-4},{"x":-0.27,"y":1.98,"v":5e-5},{"x":-0.27,"y":2.04,"v":5e-5},{"x":-0.27,"y":2.1,"v":5e-5},{"x":-0.27,"y":2.16,"v":5e-5},{"x":-0.27,"y":2.22,"v":2e-5},{"x":-0.27,"y":2.28,"v":2e-5},{"x":-0.27,"y":2.34,"v":2e-5},{"x":-0.27,"y":2.4,"v":2e-5},{"x":-0.27,"y":2.46,"v":5e-6},{"x":-0.27,"y":2.52,"v":5e-6},{"x":-0.27,"y":2.58,"v":2e-6},{"x":-0.27,"y":2.64,"v":2e-7},
{"x":-0.18,"y":0.84,"v":2e-4},{"x":-0.18,"y":0.9,"v":2e-4},{"x":-0.18,"y":0.96,"v":2e-4},{"x":-0.18,"y":1.02,"v":2e-4},{"x":-0.18,"y":1.08,"v":2e-4},{"x":-0.18,"y":1.14,"v":2e-4},{"x":-0.18,"y":1.2,"v":2e-4},{"x":-0.18,"y":1.26,"v":2e-4},{"x":-0.18,"y":1.32,"v":2e-4},{"x":-0.18,"y":1.38,"v":5e-5},{"x":-0.18,"y":1.44,"v":5e-5},{"x":-0.18,"y":1.5,"v":5e-5},{"x":-0.18,"y":1.56,"v":2e-5},{"x":-0.18,"y":1.62,"v":2e-5},{"x":-0.18,"y":1.68,"v":2e-5},{"x":-0.18,"y":1.74,"v":2e-5},{"x":-0.18,"y":1.8,"v":5e-6},{"x":-0.18,"y":1.86,"v":5e-6},{"x":-0.18,"y":1.92,"v":5e-6},{"x":-0.18,"y":1.98,"v":5e-6},{"x":-0.18,"y":2.04,"v":2e-6},{"x":-0.18,"y":2.1,"v":2e-6},{"x":-0.18,"y":2.16,"v":2e-6},{"x":-0.18,"y":2.22,"v":2e-6},{"x":-0.18,"y":2.28,"v":2e-6},{"x":-0.18,"y":2.34,"v":5e-7},{"x":-0.18,"y":2.4,"v":5e-7},{"x":-0.18,"y":2.46,"v":5e-7},{"x":-0.18,"y":2.52,"v":2e-7},{"x":-0.18,"y":2.58,"v":2e-7},{"x":-0.18,"y":2.64,"v":5e-8},{"x":-0.18,"y":2.7,"v":2e-8}
]
},
"hconcat": [
{
  "width": 1414, "height": 854,
  "view": {"stroke": "black", "strokeWidth": 2},
  "data": {"name": "h"},
  "layer": [
    {
      "mark": {"type": "rect", "binSpacing": 0, "strokeWidth": 0.8},
      "encoding": {
        "x": {"field": "x", "type": "quantitative", "bin": {"binned": true, "step": 0.09},
              "scale": {"domain": [-4.5, 0], "nice": false, "zero": false},
              "axis": {"orient": "bottom", "values": [-4.5,-4,-3.5,-3,-2.5,-2,-1.5,-1,-0.5,0], "format": "~g",
                       "tickSize": -25.6, "labelPadding": 34.6, "labelBaseline": "top",
                       "title": "log₁₀ xʙ", "titleFontSize": 65, "titleX": 1406, "titleY": 108,
                       "titleAlign": "right", "titleBaseline": "alphabetic", "titleAngle": 0}},
        "y": {"field": "y", "type": "quantitative", "bin": {"binned": true, "step": 0.06},
              "scale": {"domain": [0, 3], "nice": false, "zero": false},
              "axis": {"orient": "left", "values": [0,0.5,1,1.5,2,2.5,3], "format": "~g",
                       "tickSize": -42.4, "labelPadding": 54.4,
                       "title": "log₁₀ Q² [GeV²]", "titleFontSize": 65, "titleX": -92, "titleY": -17,
                       "titleAngle": 270, "titleAlign": "right", "titleBaseline": "alphabetic"}},
        "color": {"field": "v", "type": "quantitative", "legend": null,
                  "scale": {"type": "threshold",
                            "domain": [3.1623e-8,1e-7,3.1623e-7,1e-6,3.1623e-6,1e-5,3.1623e-5,1e-4,3.1623e-4,1e-3,3.1623e-3,1e-2,3.1623e-2,0.1,0.31623,1,3.1623,10,31.623],
                            "range": ["#273da8","#1751cb","#1063dc","#1271d9","#1480d6","#0e8ed1","#099dcc","#0da7c3","#1eafb3","#2eb7a4","#52ba92","#74bd81","#96be71","#b4bc65","#d1bb59","#e2c04a","#f5c63a","#fdd32a","#fbe81b","#f9fb0e"]}},
        "stroke": {"field": "v", "type": "quantitative", "legend": null,
                  "scale": {"type": "threshold",
                            "domain": [3.1623e-8,1e-7,3.1623e-7,1e-6,3.1623e-6,1e-5,3.1623e-5,1e-4,3.1623e-4,1e-3,3.1623e-3,1e-2,3.1623e-2,0.1,0.31623,1,3.1623,10,31.623],
                            "range": ["#273da8","#1751cb","#1063dc","#1271d9","#1480d6","#0e8ed1","#099dcc","#0da7c3","#1eafb3","#2eb7a4","#52ba92","#74bd81","#96be71","#b4bc65","#d1bb59","#e2c04a","#f5c63a","#fdd32a","#fbe81b","#f9fb0e"]}}
      }
    },
    {
      "mark": {"type": "point", "opacity": 0},
      "encoding": {
        "x": {"field": "x", "type": "quantitative",
              "axis": {"orient": "bottom", "values": [-4.5,-4.4,-4.3,-4.2,-4.1,-4,-3.9,-3.8,-3.7,-3.6,-3.5,-3.4,-3.3,-3.2,-3.1,-3,-2.9,-2.8,-2.7,-2.6,-2.5,-2.4,-2.3,-2.2,-2.1,-2,-1.9,-1.8,-1.7,-1.6,-1.5,-1.4,-1.3,-1.2,-1.1,-1,-0.9,-0.8,-0.7,-0.6,-0.5,-0.4,-0.3,-0.2,-0.1,0],
                       "labels": false, "tickSize": -12.8, "title": null, "domain": false}},
        "y": {"field": "y", "type": "quantitative",
              "axis": {"orient": "left", "values": [0,0.1,0.2,0.3,0.4,0.5,0.6,0.7,0.8,0.9,1,1.1,1.2,1.3,1.4,1.5,1.6,1.7,1.8,1.9,2,2.1,2.2,2.3,2.4,2.5,2.6,2.7,2.8,2.9,3],
                       "labels": false, "tickSize": -21.2, "title": null, "domain": false}}
      }
    }
  ],
  "resolve": {"axis": {"x": "independent", "y": "independent"}}
},
{
  "width": 79, "height": 854,
  "view": {"stroke": null},
  "data": {"name": "bands"},
  "layer": [
    {
      "mark": {"type": "rect", "strokeWidth": 0.8},
      "encoding": {
        "x": {"datum": 0, "type": "quantitative", "scale": {"domain": [0, 1], "nice": false, "zero": false}, "axis": null},
        "x2": {"datum": 1},
        "y": {"field": "lo", "type": "quantitative",
              "scale": {"type": "log", "domain": [1e-8, 100], "nice": false},
              "axis": {"orient": "right", "values": [1e-8,1e-7,1e-6,1e-5,1e-4,1e-3,1e-2,0.1,1,10,100],
                       "tickSize": -41, "labelPadding": 59, "labelAlign": "left", "labelBaseline": "middle",
                       "labelExpr": "datum.value > 50 ? '10²' : datum.value > 5 ? '10' : datum.value > 0.5 ? '1' : '10⁻' + ['','¹','²','³','⁴','⁵','⁶','⁷','⁸'][round(-log(datum.value)/LN10)]",
                       "title": null, "domain": true}},
        "y2": {"field": "hi"},
        "color": {"field": "v", "type": "quantitative", "legend": null,
                  "scale": {"type": "threshold",
                            "domain": [3.1623e-8,1e-7,3.1623e-7,1e-6,3.1623e-6,1e-5,3.1623e-5,1e-4,3.1623e-4,1e-3,3.1623e-3,1e-2,3.1623e-2,0.1,0.31623,1,3.1623,10,31.623],
                            "range": ["#273da8","#1751cb","#1063dc","#1271d9","#1480d6","#0e8ed1","#099dcc","#0da7c3","#1eafb3","#2eb7a4","#52ba92","#74bd81","#96be71","#b4bc65","#d1bb59","#e2c04a","#f5c63a","#fdd32a","#fbe81b","#f9fb0e"]}}
      }
    },
    {
      "mark": {"type": "point", "opacity": 0},
      "encoding": {
        "x": {"datum": 0, "type": "quantitative", "axis": null},
        "y": {"field": "lo", "type": "quantitative",
              "axis": {"orient": "right", "values": [2e-8,3e-8,4e-8,5e-8,6e-8,7e-8,8e-8,9e-8,2e-7,3e-7,4e-7,5e-7,6e-7,7e-7,8e-7,9e-7,2e-6,3e-6,4e-6,5e-6,6e-6,7e-6,8e-6,9e-6,2e-5,3e-5,4e-5,5e-5,6e-5,7e-5,8e-5,9e-5,2e-4,3e-4,4e-4,5e-4,6e-4,7e-4,8e-4,9e-4,2e-3,3e-3,4e-3,5e-3,6e-3,7e-3,8e-3,9e-3,0.02,0.03,0.04,0.05,0.06,0.07,0.08,0.09,0.2,0.3,0.4,0.5,0.6,0.7,0.8,0.9,2,3,4,5,6,7,8,9,20,30,40,50,60,70,80,90],
                       "labels": false, "tickSize": -21, "title": null, "domain": false}}
      }
    }
  ],
  "resolve": {"axis": {"x": "independent", "y": "independent"}}
}
]
}
